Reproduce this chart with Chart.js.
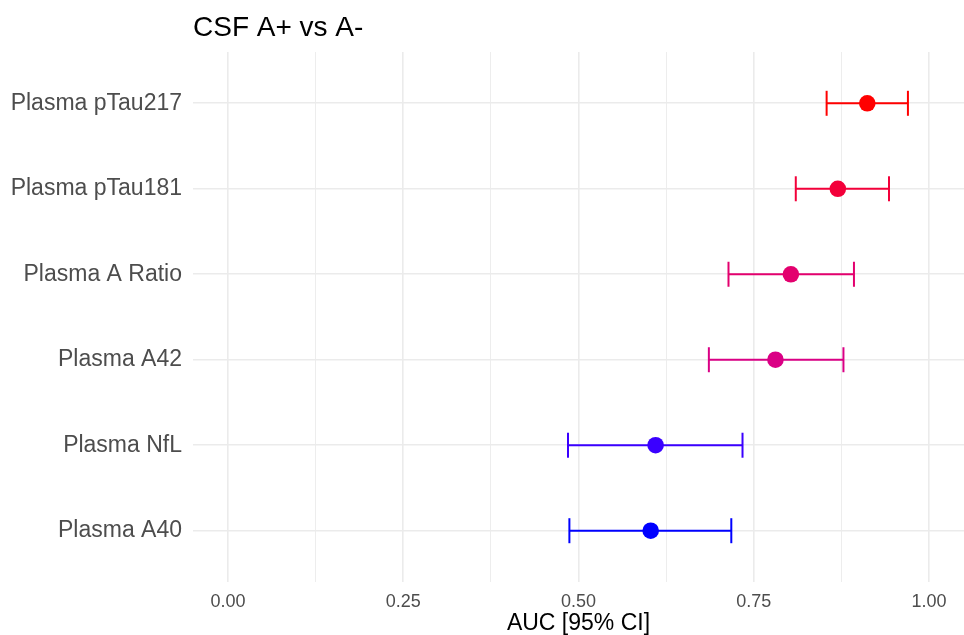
<!DOCTYPE html>
<html>
<head>
<meta charset="utf-8">
<script src="https://cdn.jsdelivr.net/npm/chart.js@4.4.1/dist/chart.umd.min.js"></script>
<style>
  html, body { margin: 0; padding: 0; background: #ffffff; }
  #wrap { width: 964px; height: 635px; position: relative; }
</style>
</head>
<body>
<div id="wrap"><canvas id="c" width="964" height="635"></canvas></div>
<script>
// ---- data (bottom to top) ----
const categories = ['Plasma A40', 'Plasma NfL', 'Plasma A42', 'Plasma A Ratio', 'Plasma pTau181', 'Plasma pTau217'];
const auc   = [0.603, 0.610, 0.781, 0.803, 0.870, 0.912];
const lower = [0.487, 0.485, 0.686, 0.714, 0.810, 0.854];
const upper = [0.718, 0.734, 0.878, 0.893, 0.943, 0.970];
const colors = ['#0000FF', '#3A00FF', '#DA0085', '#E3006E', '#F3003A', '#FF0000'];
const xTicks = [0, 0.125, 0.25, 0.375, 0.5, 0.625, 0.75, 0.875, 1.0];
const chartTitle = 'CSF A+ vs A-';
const xTitle = 'AUC [95% CI]';

const FONT = "'Liberation Sans', Arial, Helvetica, sans-serif";

const datasets = [];
categories.forEach((c, i) => {
  datasets.push({
    type: 'scatter',
    showLine: true,
    data: [{ x: lower[i], y: i + 1 }, { x: upper[i], y: i + 1 }],
    borderColor: colors[i],
    borderWidth: 2,
    pointStyle: 'line',
    rotation: 90,
    pointRadius: 12.5,
    pointBorderWidth: 2,
    pointBorderColor: colors[i],
    pointBackgroundColor: colors[i],
    order: 2
  });
});
datasets.push({
  type: 'scatter',
  data: auc.map((v, i) => ({ x: v, y: i + 1 })),
  pointRadius: 8.3,
  pointBorderWidth: 0,
  pointBackgroundColor: colors,
  pointBorderColor: colors,
  order: 1
});

const titlePlugin = {
  id: 'leftTitle',
  afterDraw(chart) {
    const ctx = chart.ctx;
    ctx.save();
    ctx.font = '28px ' + FONT;
    ctx.fillStyle = '#000000';
    ctx.textAlign = 'left';
    ctx.textBaseline = 'alphabetic';
    ctx.fillText(chartTitle, chart.chartArea.left, 36);
    ctx.restore();
  }
};

new Chart(document.getElementById('c'), {
  type: 'scatter',
  data: { datasets },
  plugins: [titlePlugin],
  options: {
    responsive: false,
    animation: false,
    clip: false,
    layout: { autoPadding: false, padding: { top: 52, bottom: 0, left: 0, right: -2 } },
    plugins: { legend: { display: false }, tooltip: { enabled: false }, title: { display: false } },
    scales: {
      x: {
        type: 'linear',
        min: -0.05,
        max: 1.05,
        afterBuildTicks(scale) { scale.ticks = xTicks.map(v => ({ value: v })); },
        afterFit(scale) { scale.height = 53; scale.paddingLeft = 0; scale.paddingRight = 0; },
        border: { display: false },
        grid: {
          color: '#EBEBEB',
          lineWidth: (ctx) => (ctx.index % 2 === 0 ? 1.6 : 0.9),
          drawTicks: false
        },
        ticks: {
          autoSkip: false,
          maxRotation: 0,
          padding: 9,
          color: '#4D4D4D',
          font: { family: FONT, size: 18 },
          callback: (v) => (Math.abs((v * 4) - Math.round(v * 4)) < 1e-9 ? v.toFixed(2) : '')
        },
        title: {
          display: true,
          text: xTitle,
          color: '#000000',
          font: { family: FONT, size: 23, lineHeight: 1.0 },
          padding: { top: 0, bottom: 0 }
        }
      },
      y: {
        type: 'linear',
        min: 0.4,
        max: 6.6,
        afterBuildTicks(scale) { scale.ticks = categories.map((c, i) => ({ value: i + 1 })); },
        afterFit(scale) { scale.width = 193; scale.paddingTop = 0; scale.paddingBottom = 0; },
        border: { display: false },
        grid: { color: '#EBEBEB', lineWidth: 1.6, drawTicks: false },
        ticks: {
          autoSkip: false,
          padding: 11,
          color: '#4D4D4D',
          font: { family: FONT, size: 23 },
          callback: (v) => categories[Math.round(v) - 1] || ''
        }
      }
    }
  }
});
</script>
</body>
</html>
